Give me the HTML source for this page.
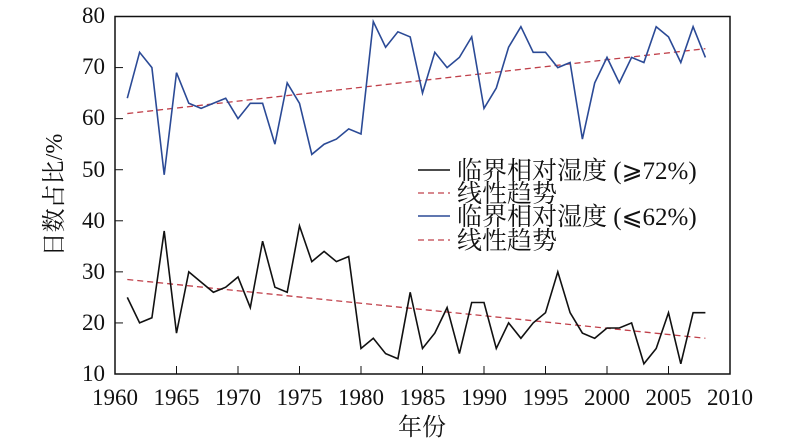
<!DOCTYPE html><html><head><meta charset="utf-8"><style>body{margin:0;background:#fff}svg{display:block}text{font-family:"Liberation Serif","Noto Serif CJK SC",serif;fill:#111}</style></head><body>
<svg width="800" height="442" viewBox="0 0 800 442" xmlns="http://www.w3.org/2000/svg">
<g id="plot"></g>
<rect x="115" y="16.5" width="615" height="357.5" fill="none" stroke="#111" stroke-width="1.5"/>
<g font-size="23" text-anchor="end">
<text x="105" y="381">10</text><text x="105" y="330">20</text><text x="105" y="279">30</text><text x="105" y="228">40</text><text x="105" y="177">50</text><text x="105" y="125">60</text><text x="105" y="74">70</text><text x="105" y="23">80</text></g>
<g font-size="23" text-anchor="middle">
<text x="115" y="405">1960</text><text x="176.5" y="405">1965</text><text x="238" y="405">1970</text><text x="299.5" y="405">1975</text><text x="361" y="405">1980</text><text x="422.5" y="405">1985</text><text x="484" y="405">1990</text><text x="545.5" y="405">1995</text><text x="607" y="405">2000</text><text x="668.5" y="405">2005</text><text x="730" y="405">2010</text>
<text x="422" y="435" font-size="24">年份</text></g>
<text transform="translate(62,195) rotate(-90)" font-size="24" text-anchor="middle">日数占比/%</text>
<g font-size="25">
<line x1="418" y1="170" x2="450" y2="170" stroke="#111" stroke-width="1.5"/><text x="457" y="179">临界相对湿度 (⩾72%)</text>
<line x1="418" y1="193" x2="450" y2="193" stroke="#c0404a" stroke-width="1.3" stroke-dasharray="6,4"/><text x="457" y="202">线性趋势</text>
<line x1="418" y1="216" x2="450" y2="216" stroke="#2b4a96" stroke-width="1.5"/><text x="457" y="225">临界相对湿度 (⩽62%)</text>
<line x1="418" y1="240" x2="450" y2="240" stroke="#c0404a" stroke-width="1.3" stroke-dasharray="6,4"/><text x="457" y="249">线性趋势</text>
</g>
<script>
var b=[64,73,70,49,69,63,62,63,64,60,63,63,55,67,63,53,55,56,58,57,79,74,77,76,65,73,70,72,76,62,66,74,78,73,73,70,71,56,67,72,67,72,71,78,76,71,78,72];
var k=[25,20,21,38,18,30,28,26,27,29,23,36,27,26,39,32,34,32,33,15,17,14,13,26,15,18,23,14,24,24,15,20,17,20,22,30,22,18,17,19,19,20,12,15,22,12,22,22];
function X(y){return 115+12.3*(y-1960)}function Y(v){return 374-(v-10)*5.107}
function pts(a){return a.map(function(v,i){return X(1961+i).toFixed(1)+","+Y(v).toFixed(1)}).join(" ")}
var g=document.getElementById("plot"),ns="http://www.w3.org/2000/svg";
function pl(p,c,w,d){var e=document.createElementNS(ns,"polyline");e.setAttribute("points",p);e.setAttribute("fill","none");e.setAttribute("stroke",c);e.setAttribute("stroke-width",w);if(d)e.setAttribute("stroke-dasharray",d);g.appendChild(e)}
pl(X(1961)+","+Y(61)+" "+X(2008)+","+Y(73.7),"#c0404a",1.3,"6,4");
pl(X(1961)+","+Y(28.5)+" "+X(2008)+","+Y(17),"#c0404a",1.3,"6,4");
pl(pts(b),"#2b4a96",1.6);pl(pts(k),"#111",1.6);
var t=[10,20,30,40,50,60,70];t.forEach(function(v){var e=document.createElementNS(ns,"line");e.setAttribute("x1",115);e.setAttribute("x2",123);e.setAttribute("y1",Y(v));e.setAttribute("y2",Y(v));e.setAttribute("stroke","#111");g.appendChild(e)});
for(var y=1965;y<2010;y+=5){var e=document.createElementNS(ns,"line");e.setAttribute("x1",X(y));e.setAttribute("x2",X(y));e.setAttribute("y1",374);e.setAttribute("y2",366);e.setAttribute("stroke","#111");g.appendChild(e)}
</script>
</svg></body></html>
